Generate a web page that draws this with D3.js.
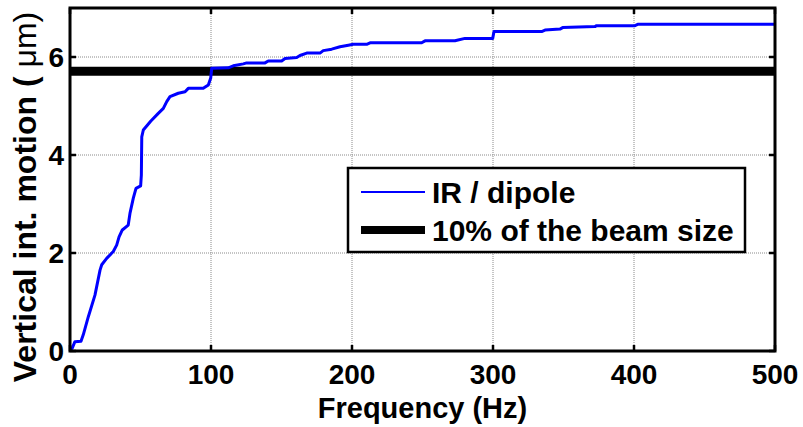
<!DOCTYPE html>
<html>
<head>
<meta charset="utf-8">
<script src="https://cdn.jsdelivr.net/npm/d3@7"></script>
<style>
  html, body { margin: 0; padding: 0; background: #fff; }
  svg { display: block; }
  text { font-family: "Liberation Sans", Arial, Helvetica, sans-serif; font-weight: bold; fill: #000; }
</style>
</head>
<body>
<svg id="chart" width="803" height="427"></svg>
<script>
// ---- data ----
const freq = [0, 1.6, 3.5, 7.8, 9.4, 13.0, 17.7, 21.3, 22.5, 26.0, 30.7, 33.1, 34.8, 37.1, 41.3, 42.6, 44.9, 46.8, 50.1, 50.6, 50.9, 52.0, 57.2, 62.6, 66.2, 68.6, 70.9, 76.8, 81.6, 83.9, 94.5, 98.1, 99.8, 100.5, 112.3, 115.8, 122.9, 125.3, 138.3, 140.6, 150.1, 152.5, 160.8, 163.1, 167.9, 177.3, 179.6, 185.6, 191.5, 197.4, 200.9, 210.4, 212.8, 249.4, 251.8, 273.0, 280.1, 299.8, 300.7, 334.5, 336.9, 347.5, 349.4, 372.3, 373.5, 400.7, 403.0, 500];
const motion = [0.02, 0.06, 0.19, 0.20, 0.33, 0.70, 1.14, 1.65, 1.76, 1.89, 2.03, 2.16, 2.33, 2.47, 2.57, 2.82, 3.12, 3.32, 3.37, 3.59, 4.37, 4.51, 4.69, 4.85, 4.95, 5.09, 5.19, 5.26, 5.29, 5.36, 5.36, 5.43, 5.57, 5.77, 5.78, 5.82, 5.86, 5.88, 5.88, 5.92, 5.92, 5.97, 5.99, 6.03, 6.08, 6.08, 6.13, 6.16, 6.21, 6.24, 6.26, 6.26, 6.29, 6.29, 6.33, 6.33, 6.38, 6.38, 6.52, 6.52, 6.55, 6.57, 6.60, 6.62, 6.64, 6.64, 6.67, 6.67];
const threshold = 5.71;
const xTicks = [0, 100, 200, 300, 400, 500];
const yTicks = [0, 2, 4, 6];
const legendLabels = ["IR / dipole", "10% of the beam size"];
const xLabel = "Frequency (Hz)";
const yLabelMain = "Vertical int. motion ( ";
const yLabelUnit = "\u03BCm)";

// ---- layout ----
const svg = d3.select("#chart");
const L = 70, R = 775, T = 8, B = 351;
const x = d3.scaleLinear().domain([0, 500]).range([L, R]);
const y = d3.scaleLinear().domain([0, 7]).range([B, T]);

// grid
const grid = svg.append("g");
grid.selectAll("line.gx").data(xTicks.filter(d => d > 0 && d < 500)).enter().append("line")
  .attr("x1", d => x(d)).attr("x2", d => x(d)).attr("y1", T).attr("y2", B)
  .attr("stroke", "#8a8a8a").attr("stroke-width", 1).attr("stroke-dasharray", "1,1");
grid.selectAll("line.gy").data(yTicks.filter(d => d > 0)).enter().append("line")
  .attr("x1", L).attr("x2", R).attr("y1", d => y(d)).attr("y2", d => y(d))
  .attr("stroke", "#8a8a8a").attr("stroke-width", 1).attr("stroke-dasharray", "1,1");

// threshold line
svg.append("line")
  .attr("x1", x(0)).attr("x2", x(500)).attr("y1", y(threshold)).attr("y2", y(threshold))
  .attr("stroke", "#000").attr("stroke-width", 9);

// curve
const pts = freq.map((f, i) => [f, motion[i]]);
svg.append("path").datum(pts)
  .attr("d", d3.line().x(d => x(d[0])).y(d => y(d[1])))
  .attr("fill", "none").attr("stroke", "#0000ff").attr("stroke-width", 3)
  .attr("stroke-linejoin", "round");

// axes (inward ticks, all four sides)
const tickLen = 6;
const ax = svg.append("g").attr("stroke", "#000").attr("stroke-width", 2.5);
xTicks.forEach(d => {
  ax.append("line").attr("x1", x(d)).attr("x2", x(d)).attr("y1", B).attr("y2", B - tickLen);
  ax.append("line").attr("x1", x(d)).attr("x2", x(d)).attr("y1", T).attr("y2", T + tickLen);
});
yTicks.forEach(d => {
  ax.append("line").attr("x1", L).attr("x2", L + tickLen).attr("y1", y(d)).attr("y2", y(d));
  ax.append("line").attr("x1", R).attr("x2", R - tickLen).attr("y1", y(d)).attr("y2", y(d));
});
svg.append("rect").attr("x", L).attr("y", T).attr("width", R - L).attr("height", B - T)
  .attr("fill", "none").attr("stroke", "#000").attr("stroke-width", 3);

// tick labels
svg.selectAll("text.xt").data(xTicks).enter().append("text")
  .attr("x", d => x(d)).attr("y", 384).attr("text-anchor", "middle")
  .attr("font-size", 28).text(d => d);
svg.selectAll("text.yt").data(yTicks).enter().append("text")
  .attr("x", 64).attr("y", d => y(d) + 10).attr("text-anchor", "end")
  .attr("font-size", 28).text(d => d);

// axis labels
svg.append("text").attr("x", (L + R) / 2).attr("y", 418).attr("text-anchor", "middle")
  .attr("font-size", 29).text(xLabel);
const yl = svg.append("text").attr("transform", `translate(36, 197) rotate(-90)`)
  .attr("text-anchor", "middle").attr("font-size", 32);
yl.append("tspan").text(yLabelMain);
yl.append("tspan").attr("font-weight", "normal").text(yLabelUnit);

// legend
const lg = svg.append("g");
lg.append("rect").attr("x", 348).attr("y", 168).attr("width", 397).attr("height", 84)
  .attr("fill", "#fff").attr("stroke", "#000").attr("stroke-width", 2.5);
const lgColors = ["#0000ff", "#000"];
const lgWidths = [2, 8];
legendLabels.forEach((t, i) => {
  const cy = 192 + i * 38;
  lg.append("line").attr("x1", 361).attr("x2", 425).attr("y1", cy).attr("y2", cy)
    .attr("stroke", lgColors[i]).attr("stroke-width", lgWidths[i]);
  lg.append("text").attr("x", 432).attr("y", cy + 11).attr("font-size", 30).text(t);
});
</script>
</body>
</html>
